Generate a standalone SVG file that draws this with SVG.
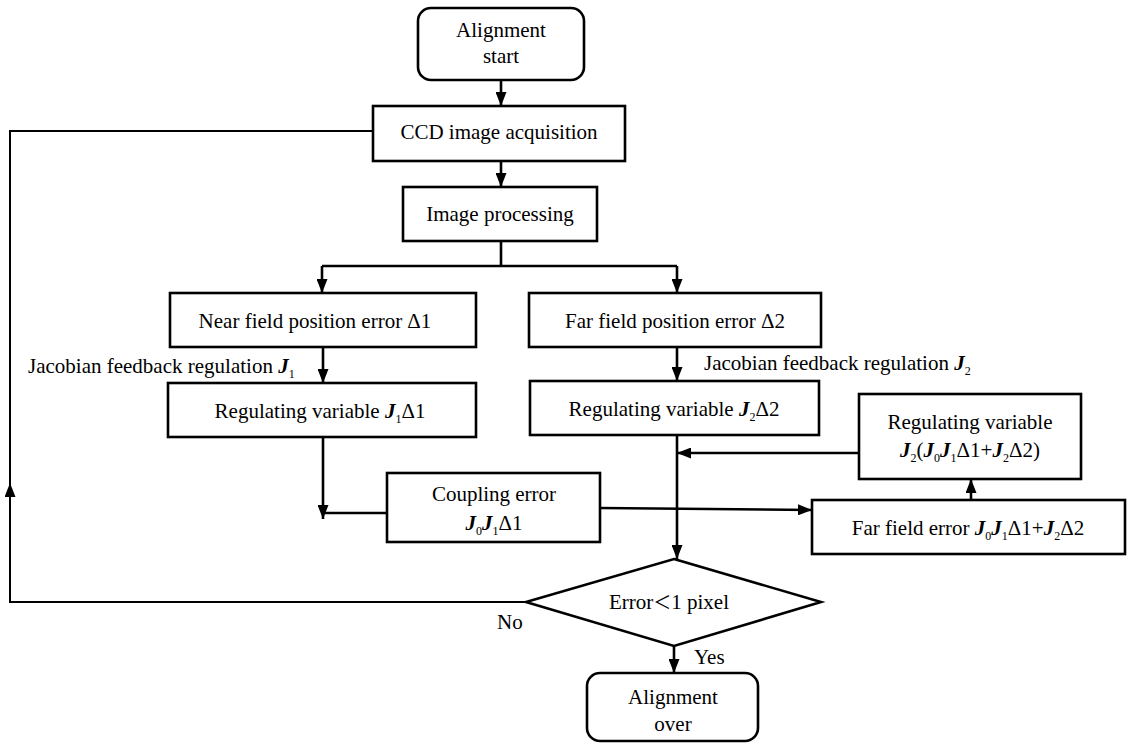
<svg xmlns="http://www.w3.org/2000/svg" width="1127" height="743" viewBox="0 0 1127 743">
<defs>
<marker id="ah" viewBox="0 0 14 11" refX="14" refY="5.5" markerWidth="14" markerHeight="11" markerUnits="userSpaceOnUse" orient="auto">
<path d="M0,0 L14,5.5 L0,11 Z" fill="#000"/>
</marker>
<style>
.box{fill:#fff;stroke:#000;stroke-width:2.6}
.ln{fill:none;stroke:#000;stroke-width:2.6}
.fb{fill:none;stroke:#000;stroke-width:2}
.t{font-family:"Liberation Serif",serif;font-size:21px;fill:#000}
.c{text-anchor:middle}
.J{font-weight:bold;font-style:italic}
.s{font-size:12px}
.lt{font-family:"Noto Sans CJK SC",sans-serif;font-size:18px}
</style>
</defs>
<rect width="1127" height="743" fill="#fff"/>
<g id="connectors">
<line class="ln" x1="501" y1="80" x2="501" y2="106" marker-end="url(#ah)"/>
<line class="ln" x1="501" y1="161" x2="501" y2="187" marker-end="url(#ah)"/>
<polyline class="ln" points="501,241 501,266"/>
<polyline class="ln" points="322,266 677,266"/>
<line class="ln" x1="322" y1="266" x2="322" y2="293" marker-end="url(#ah)"/>
<line class="ln" x1="677" y1="266" x2="677" y2="293" marker-end="url(#ah)"/>
<line class="ln" x1="323" y1="347" x2="323" y2="383" marker-end="url(#ah)"/>
<line class="ln" x1="677" y1="347" x2="677" y2="381" marker-end="url(#ah)"/>
<line class="ln" x1="323" y1="437" x2="323" y2="519" marker-end="url(#ah)"/>
<line class="ln" x1="387" y1="513" x2="323" y2="513"/>
<line class="ln" x1="600" y1="508" x2="812" y2="510" marker-end="url(#ah)"/>
<line class="ln" x1="971" y1="500" x2="971" y2="479" marker-end="url(#ah)"/>
<line class="ln" x1="859" y1="453" x2="677" y2="453" marker-end="url(#ah)"/>
<line class="ln" x1="677" y1="435" x2="677" y2="559" marker-end="url(#ah)"/>
<line class="ln" x1="674" y1="646" x2="674" y2="673" marker-end="url(#ah)"/>
<polyline class="fb" points="526,602 10,602 10,483" marker-end="url(#ah)"/>
<polyline class="fb" points="10,490 10,131 373,131"/>
</g>
<g id="start">
<rect class="box" x="418" y="8" width="166" height="72" rx="13"/>
<text class="t c" x="501" y="37">Alignment</text>
<text class="t c" x="501" y="63">start</text>
</g>
<g id="ccd">
<rect class="box" x="373" y="106" width="252" height="55"/>
<text class="t c" x="499" y="139">CCD image acquisition</text>
</g>
<g id="imgproc">
<rect class="box" x="403" y="187" width="194" height="54"/>
<text class="t c" x="500" y="221">Image processing</text>
</g>
<g id="near">
<rect class="box" x="170" y="293" width="306" height="54"/>
<text class="t c" x="315" y="328">Near field position error Δ1</text>
</g>
<g id="label-j1">
<text class="t" x="28" y="373">Jacobian feedback regulation <tspan class="J">J</tspan><tspan class="s" dy="5">1</tspan></text>
</g>
<g id="reg1">
<rect class="box" x="168" y="383" width="308" height="54"/>
<text class="t c" x="320" y="418">Regulating variable <tspan class="J">J</tspan><tspan class="s" dy="5">1</tspan><tspan dy="-5">Δ1</tspan></text>
</g>
<g id="coupling">
<rect class="box" x="387" y="473" width="213" height="69"/>
<text class="t c" x="494" y="501">Coupling error</text>
<text class="t c" x="494" y="530"><tspan class="J">J</tspan><tspan class="s" dy="5">0</tspan><tspan class="J" dy="-5">J</tspan><tspan class="s" dy="5">1</tspan><tspan dy="-5">Δ1</tspan></text>
</g>
<g id="far">
<rect class="box" x="529" y="293" width="292" height="54"/>
<text class="t c" x="675" y="328">Far field position error Δ2</text>
</g>
<g id="label-j2">
<text class="t" x="704" y="370">Jacobian feedback regulation <tspan class="J">J</tspan><tspan class="s" dy="5">2</tspan></text>
</g>
<g id="reg2">
<rect class="box" x="530" y="381" width="289" height="54"/>
<text class="t c" x="674" y="416">Regulating variable <tspan class="J">J</tspan><tspan class="s" dy="5">2</tspan><tspan dy="-5">Δ2</tspan></text>
</g>
<g id="reg3">
<rect class="box" x="859" y="394" width="222" height="85"/>
<text class="t c" x="970" y="429">Regulating variable</text>
<text class="t c" x="970" y="457"><tspan class="J">J</tspan><tspan class="s" dy="5">2</tspan><tspan dy="-5">(</tspan><tspan class="J">J</tspan><tspan class="s" dy="5">0</tspan><tspan class="J" dy="-5">J</tspan><tspan class="s" dy="5">1</tspan><tspan dy="-5">Δ1+</tspan><tspan class="J">J</tspan><tspan class="s" dy="5">2</tspan><tspan dy="-5">Δ2)</tspan></text>
</g>
<g id="farerr">
<rect class="box" x="812" y="500" width="313" height="54"/>
<text class="t c" x="968" y="535">Far field error <tspan class="J">J</tspan><tspan class="s" dy="5">0</tspan><tspan class="J" dy="-5">J</tspan><tspan class="s" dy="5">1</tspan><tspan dy="-5">Δ1+</tspan><tspan class="J">J</tspan><tspan class="s" dy="5">2</tspan><tspan dy="-5">Δ2</tspan></text>
</g>
<g id="decision">
<polygon class="box" points="674,559 821,602 674,646 526,602"/>
<text class="t c" x="669" y="609">Error<tspan class="lt">＜</tspan>1 pixel</text>
<text class="t" x="694" y="664">Yes</text>
<text class="t" x="497" y="629">No</text>
</g>
<g id="over">
<rect class="box" x="587" y="673" width="171" height="68" rx="13"/>
<text class="t c" x="673" y="704">Alignment</text>
<text class="t c" x="673" y="731">over</text>
</g>
</svg>
